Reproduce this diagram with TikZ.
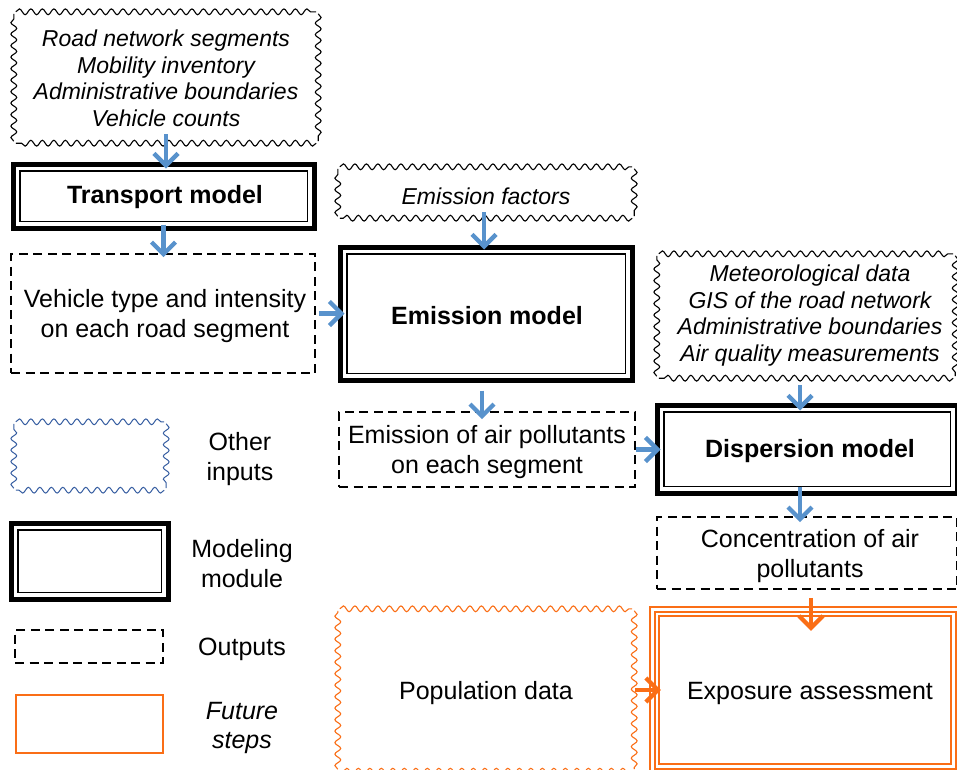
\documentclass[tikz,border=0pt]{standalone}
\usepackage{fontspec}
\setmainfont{Liberation Sans}
\usetikzlibrary{arrows.meta,decorations.pathmorphing}
\definecolor{arrblue}{RGB}{88,146,204}
\definecolor{legblue}{RGB}{52,92,160}
\definecolor{futorange}{RGB}{250,110,22}
\tikzset{
  txt/.style={font=\fontsize{25}{30}\selectfont, align=center, inner sep=0pt},
  intxt/.style={font=\fontsize{23}{26.5}\selectfont\itshape, align=center, inner sep=0pt},
  boldtxt/.style={font=\fontsize{25}{30}\selectfont\bfseries, align=center, inner sep=0pt},
  frame/.style={inner sep=0pt},
  wavyline/.style={line width=1.1pt, decorate,
    decoration={snake, segment length=11.5pt, amplitude=2.9pt}},
  modbox/.style={draw, line width=5pt,
    path picture={\draw[line width=1.4pt]
      ([shift={(6.8pt,-6.8pt)}]path picture bounding box.north west) rectangle
      ([shift={(-6.8pt,6.8pt)}]path picture bounding box.south east);}},
  outbox/.style={draw, line width=1.8pt, dash pattern=on 9pt off 5.5pt},
  futbox/.style={draw=futorange, line width=2.2pt},
  tribox/.style={draw=futorange, line width=2.2pt,
    path picture={\draw[futorange, line width=2pt]
      ([shift={(4.5pt,-4.5pt)}]path picture bounding box.north west) rectangle
      ([shift={(-4.5pt,4.5pt)}]path picture bounding box.south east);
      \draw[futorange, line width=2pt]
      ([shift={(9pt,-9pt)}]path picture bounding box.north west) rectangle
      ([shift={(-9pt,9pt)}]path picture bounding box.south east);}},
  arr/.style={draw=arrblue, line width=4.3pt,
    -{Straight Barb[length=12pt,width=24pt]}},
  farr/.style={arr, draw=futorange},
}
% wavy border drawn side by side around a named node
\newcommand\wavyframe[2]{%
  \draw[wavyline,#2] ([xshift=2pt]#1.north west) -- ([xshift=-2pt]#1.north east);
  \draw[wavyline,#2] ([yshift=-2pt]#1.north east) -- ([yshift=2pt]#1.south east);
  \draw[wavyline,#2] ([xshift=-2pt]#1.south east) -- ([xshift=2pt]#1.south west);
  \draw[wavyline,#2] ([yshift=2pt]#1.south west) -- ([yshift=-2pt]#1.north west);}
\begin{document}
\begin{tikzpicture}[x=1pt,y=-1pt]
\useasboundingbox (0,0) rectangle (957,769);
\clip (0,0) rectangle (957,769);

% input data
\node[frame, minimum width=304, minimum height=131] (in1) at (166,77.5) {};
\wavyframe{in1}{black}
\node[intxt] at (166,78.5) {Road network segments\\Mobility inventory\\Administrative boundaries\\Vehicle counts};
\node[frame, minimum width=296, minimum height=51] (ef) at (486,192.5) {};
\wavyframe{ef}{black}
\node[intxt] at (486,196) {Emission factors};
\node[frame, minimum width=298, minimum height=124] (met) at (806,316) {};
\wavyframe{met}{black}
\node[intxt] at (810,315.5) {Meteorological data\\GIS of the road network\\Administrative boundaries\\Air quality measurements};

% modelling modules
\node[modbox, minimum width=301, minimum height=64] (tm) at (163.5,196) {};
\node[boldtxt] at (165,197.5) {Transport model};
\node[modbox, minimum width=292, minimum height=133] (em) at (486,313.5) {};
\node[boldtxt] at (487,315.5) {Emission model};
\node[modbox, minimum width=300, minimum height=88] (dm) at (807,449) {};
\node[boldtxt] at (810,451.5) {Dispersion model};

% outputs
\node[outbox, minimum width=304, minimum height=119] (veh) at (163,313.5) {};
\node[txt] at (165,316) {Vehicle type and intensity\\on each road segment};
\node[outbox, minimum width=296, minimum height=75] (eap) at (487,449.5) {};
\node[txt] at (487,452.5) {Emission of air pollutants\\on each segment};
\node[outbox, minimum width=300, minimum height=72] (conc) at (807,553) {};
\node[txt] at (810,556) {Concentration of air\\pollutants};

% future steps
\node[frame, minimum width=296, minimum height=162] (pop) at (486,690) {};
\wavyframe{pop}{futorange}
\node[txt] at (486,693) {Population data};
\node[tribox, minimum width=310, minimum height=166] (exp) at (805,690) {};
\node[txt] at (810,693) {Exposure assessment};

% connectors
\draw[arr] ([yshift=9pt]in1.south) -- ([yshift=-7pt]in1.south |- tm.north);
\draw[arr] ([yshift=6pt]tm.south) -- ([yshift=-4pt]tm.south |- veh.north);
\draw[arr] ([xshift=3pt]veh.east) -- ([xshift=7pt]veh.east -| em.west);
\draw[arr] ([xshift=-2pt,yshift=6pt]ef.south) -- ([xshift=-2pt,yshift=-5pt]ef.south |- em.north);
\draw[arr] ([xshift=-4pt,yshift=-8pt]em.south) -- ([xshift=-4pt,yshift=-8pt]em.south |- eap.north);
\draw[arr] ([xshift=0pt]eap.east) -- ([xshift=6pt]eap.east -| dm.west);
\draw[arr] ([xshift=-6pt,yshift=-7pt]met.south) -- ([xshift=-6pt,yshift=-8pt]met.south |- dm.north);
\draw[arr] ([xshift=-7pt,yshift=9pt]dm.south) -- ([xshift=-7pt,yshift=-6pt]dm.south |- conc.north);
\draw[farr] ([xshift=4pt,yshift=-8pt]conc.south) -- ([xshift=4pt,yshift=-25pt]conc.south |- exp.north);
\draw[farr] ([xshift=1pt]pop.east) -- ([xshift=12pt]pop.east -| exp.west);

% legend
\node[frame, minimum width=152, minimum height=68] (lin) at (90,456) {};
\wavyframe{lin}{draw=legblue, line width=1pt}
\node[txt] (linl) at (240,459) {Other\\inputs};
\node[modbox, minimum width=157, minimum height=76] (lmod) at (89.5,561) {};
\node[txt] (lmodl) at (242,563.5) {Modeling\\module};
\node[outbox, minimum width=148, minimum height=33] (lout) at (89,646.5) {};
\node[txt] (loutl) at (242,649.5) {Outputs};
\node[futbox, minimum width=147, minimum height=58] (lfut) at (89.5,724) {};
\node[txt, font=\fontsize{25}{29}\selectfont\itshape] (lfutl) at (242,728) {Future\\steps};
\end{tikzpicture}
\end{document}
